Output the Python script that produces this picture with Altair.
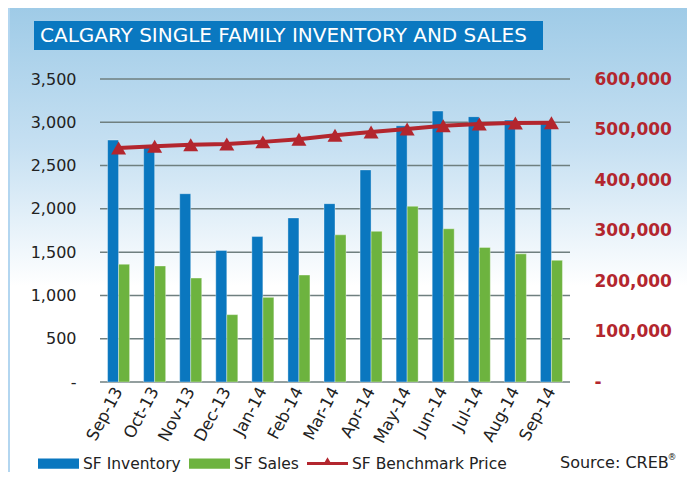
import altair as alt
import pandas as pd

# ---------------- data ----------------
months = ["Sep-13", "Oct-13", "Nov-13", "Dec-13", "Jan-14", "Feb-14", "Mar-14",
          "Apr-14", "May-14", "Jun-14", "Jul-14", "Aug-14", "Sep-14"]
inventory = [2795, 2720, 2175, 1520, 1680, 1895, 2060, 2450, 2960, 3130, 3065, 3025, 2990]
sales = [1360, 1340, 1200, 778, 978, 1235, 1700, 1740, 2030, 1770, 1555, 1480, 1405]
price = [463500, 466800, 470000, 471500, 475500, 480500, 488500, 495000,
         501000, 507500, 511000, 513000, 513500]

series_names = ["SF Inventory", "SF Sales", "SF Benchmark Price"]
series_colors = ["#0A77BF", "#6DB33F", "#B3262E"]
left_ticks = [0, 500, 1000, 1500, 2000, 2500, 3000, 3500]
right_ticks = [0, 100000, 200000, 300000, 400000, 500000, 600000]
title_text = "CALGARY SINGLE FAMILY INVENTORY AND SALES"
source_text = "Source: CREB"
source_mark = "®"

FONT = "DejaVu Sans"
RED = series_colors[2]
TXT = "#222222"

bars_df = pd.DataFrame(
    [{"month": m, "series": series_names[0], "value": v} for m, v in zip(months, inventory)]
    + [{"month": m, "series": series_names[1], "value": v} for m, v in zip(months, sales)]
)
price_df = pd.DataFrame({"month": months, "price": price})
grid_df = pd.DataFrame({"value": left_ticks})
one = pd.DataFrame({"k": [0]})

W, H = 470, 303
PL, PT, PR, PB = 92, 71, 117, 90

x_enc = alt.X("month:N", sort=months,
              scale=alt.Scale(paddingInner=0.39, paddingOuter=0.21),
              axis=alt.Axis(title=None, labelAngle=298, labelFontSize=16.5, labelFont=FONT,
                            labelColor=TXT, labelAlign="right", labelBaseline="middle",
                            labelPadding=6, domain=False, ticks=False, zindex=1))

# ---------------- background ----------------
bg = alt.Chart(one).mark_rect(
    fill=alt.LinearGradient(
        gradient="linear", x1=0, x2=0, y1=0, y2=1,
        stops=[alt.GradientStop(color="#9FCBE7", offset=0),
               alt.GradientStop(color="#C6E0F2", offset=0.3),
               alt.GradientStop(color="#FFFFFF", offset=0.6),
               alt.GradientStop(color="#FFFFFF", offset=1)]),
).encode(x=alt.value(-PL), x2=alt.value(W + PR), y=alt.value(-PT), y2=alt.value(H + PB))

stripe = alt.Chart(one).mark_rect(fill="#B3D6F0").encode(
    x=alt.value(-PL), x2=alt.value(-PL + 2), y=alt.value(-PT), y2=alt.value(H + PB))

title_box = alt.Chart(one).mark_rect(fill="#0A78C0").encode(
    x=alt.value(-66), x2=alt.value(443), y=alt.value(-58), y2=alt.value(-29))
title = alt.Chart(one).mark_text(
    text=title_text, font=FONT, fontSize=20, color="white", align="left", baseline="middle"
).encode(x=alt.value(-60), y=alt.value(-43))

source = alt.Chart(one).mark_text(
    text=source_text, font=FONT, fontSize=16, color=TXT, align="left", baseline="middle"
).encode(x=alt.value(460), y=alt.value(384))
source_r = alt.Chart(one).mark_text(
    text=source_mark, font=FONT, fontSize=9, color=TXT, align="left", baseline="middle"
).encode(x=alt.value(567.5), y=alt.value(378))

# ---------------- left (units) ----------------
y_left_scale = alt.Scale(domain=[0, 3500], nice=False)
left_axis = alt.Axis(title=None, values=left_ticks, grid=False, domain=False, ticks=False,
                     labelFont=FONT, labelFontSize=16, labelColor=TXT, labelPadding=24,
                     zindex=1,
                     labelExpr="datum.value == 0 ? '-' : format(datum.value, ',')")
grid = alt.Chart(grid_df).mark_rule(color="#6F7F7F", strokeWidth=1.5).encode(
    y=alt.Y("value:Q", scale=y_left_scale, axis=left_axis))

rect_path = "M-1,-0.25H1V0.25H-1Z"
line_path = "M-1,-0.07H1V0.07H-1Z M-0.22,0.07L0,-0.3L0.22,0.07Z"
sym_expr = f"datum.value === 'SF Benchmark Price' ? '{line_path}' : '{rect_path}'"

bars = alt.Chart(bars_df).mark_bar(stroke="white", strokeOpacity=0.35, strokeWidth=1).encode(
    x=x_enc,
    xOffset=alt.XOffset("series:N", sort=series_names[:2],
                        scale=alt.Scale(domain=series_names[:2], paddingInner=0, paddingOuter=0)),
    y=alt.Y("value:Q", scale=y_left_scale, axis=left_axis),
    color=alt.Color("series:N", sort=series_names,
                    scale=alt.Scale(domain=series_names, range=series_colors),
                    legend=alt.Legend(title=None, orient="none", legendX=-62, legendY=364,
                                      direction="horizontal", symbolType=alt.ExprRef(sym_expr),
                                      symbolSize=1681, symbolStrokeWidth=0, symbolOpacity=1,
                                      labelFont=FONT, labelFontSize=15.5, labelColor=TXT,
                                      labelOffset=4, columnPadding=8, padding=0)),
)

left = alt.layer(grid, bars)

# ---------------- right (price) ----------------
y_right_scale = alt.Scale(domain=[0, 600000], nice=False)
right_axis = alt.Axis(orient="right", title=None, values=right_ticks, grid=False,
                      domain=False, ticks=False, labelFont=FONT, labelFontSize=17,
                      labelFontWeight="bold", labelColor=RED, labelPadding=24, zindex=1,
                      labelExpr="datum.value == 0 ? '-' : format(datum.value, ',')")
line = alt.Chart(price_df).mark_line(color=RED, strokeWidth=4).encode(
    x=alt.X("month:N", sort=months),
    y=alt.Y("price:Q", scale=y_right_scale, axis=right_axis),
)
points = alt.Chart(price_df).mark_point(shape="triangle-up", size=225, filled=True,
                                        color=RED, opacity=1).encode(
    x=alt.X("month:N", sort=months),
    y=alt.Y("price:Q", scale=y_right_scale, axis=right_axis),
)
right = alt.layer(line, points)

chart = alt.layer(bg, stripe, title_box, title, source, source_r, left, right).resolve_scale(
    y="independent"
).properties(
    width=W, height=H,
    autosize=alt.AutoSizeParams(type="none"),
    padding={"left": PL, "top": PT, "right": PR, "bottom": PB},
).configure_view(stroke=None)

chart.save("out.html", embed_options={"renderer": "svg", "actions": False})
